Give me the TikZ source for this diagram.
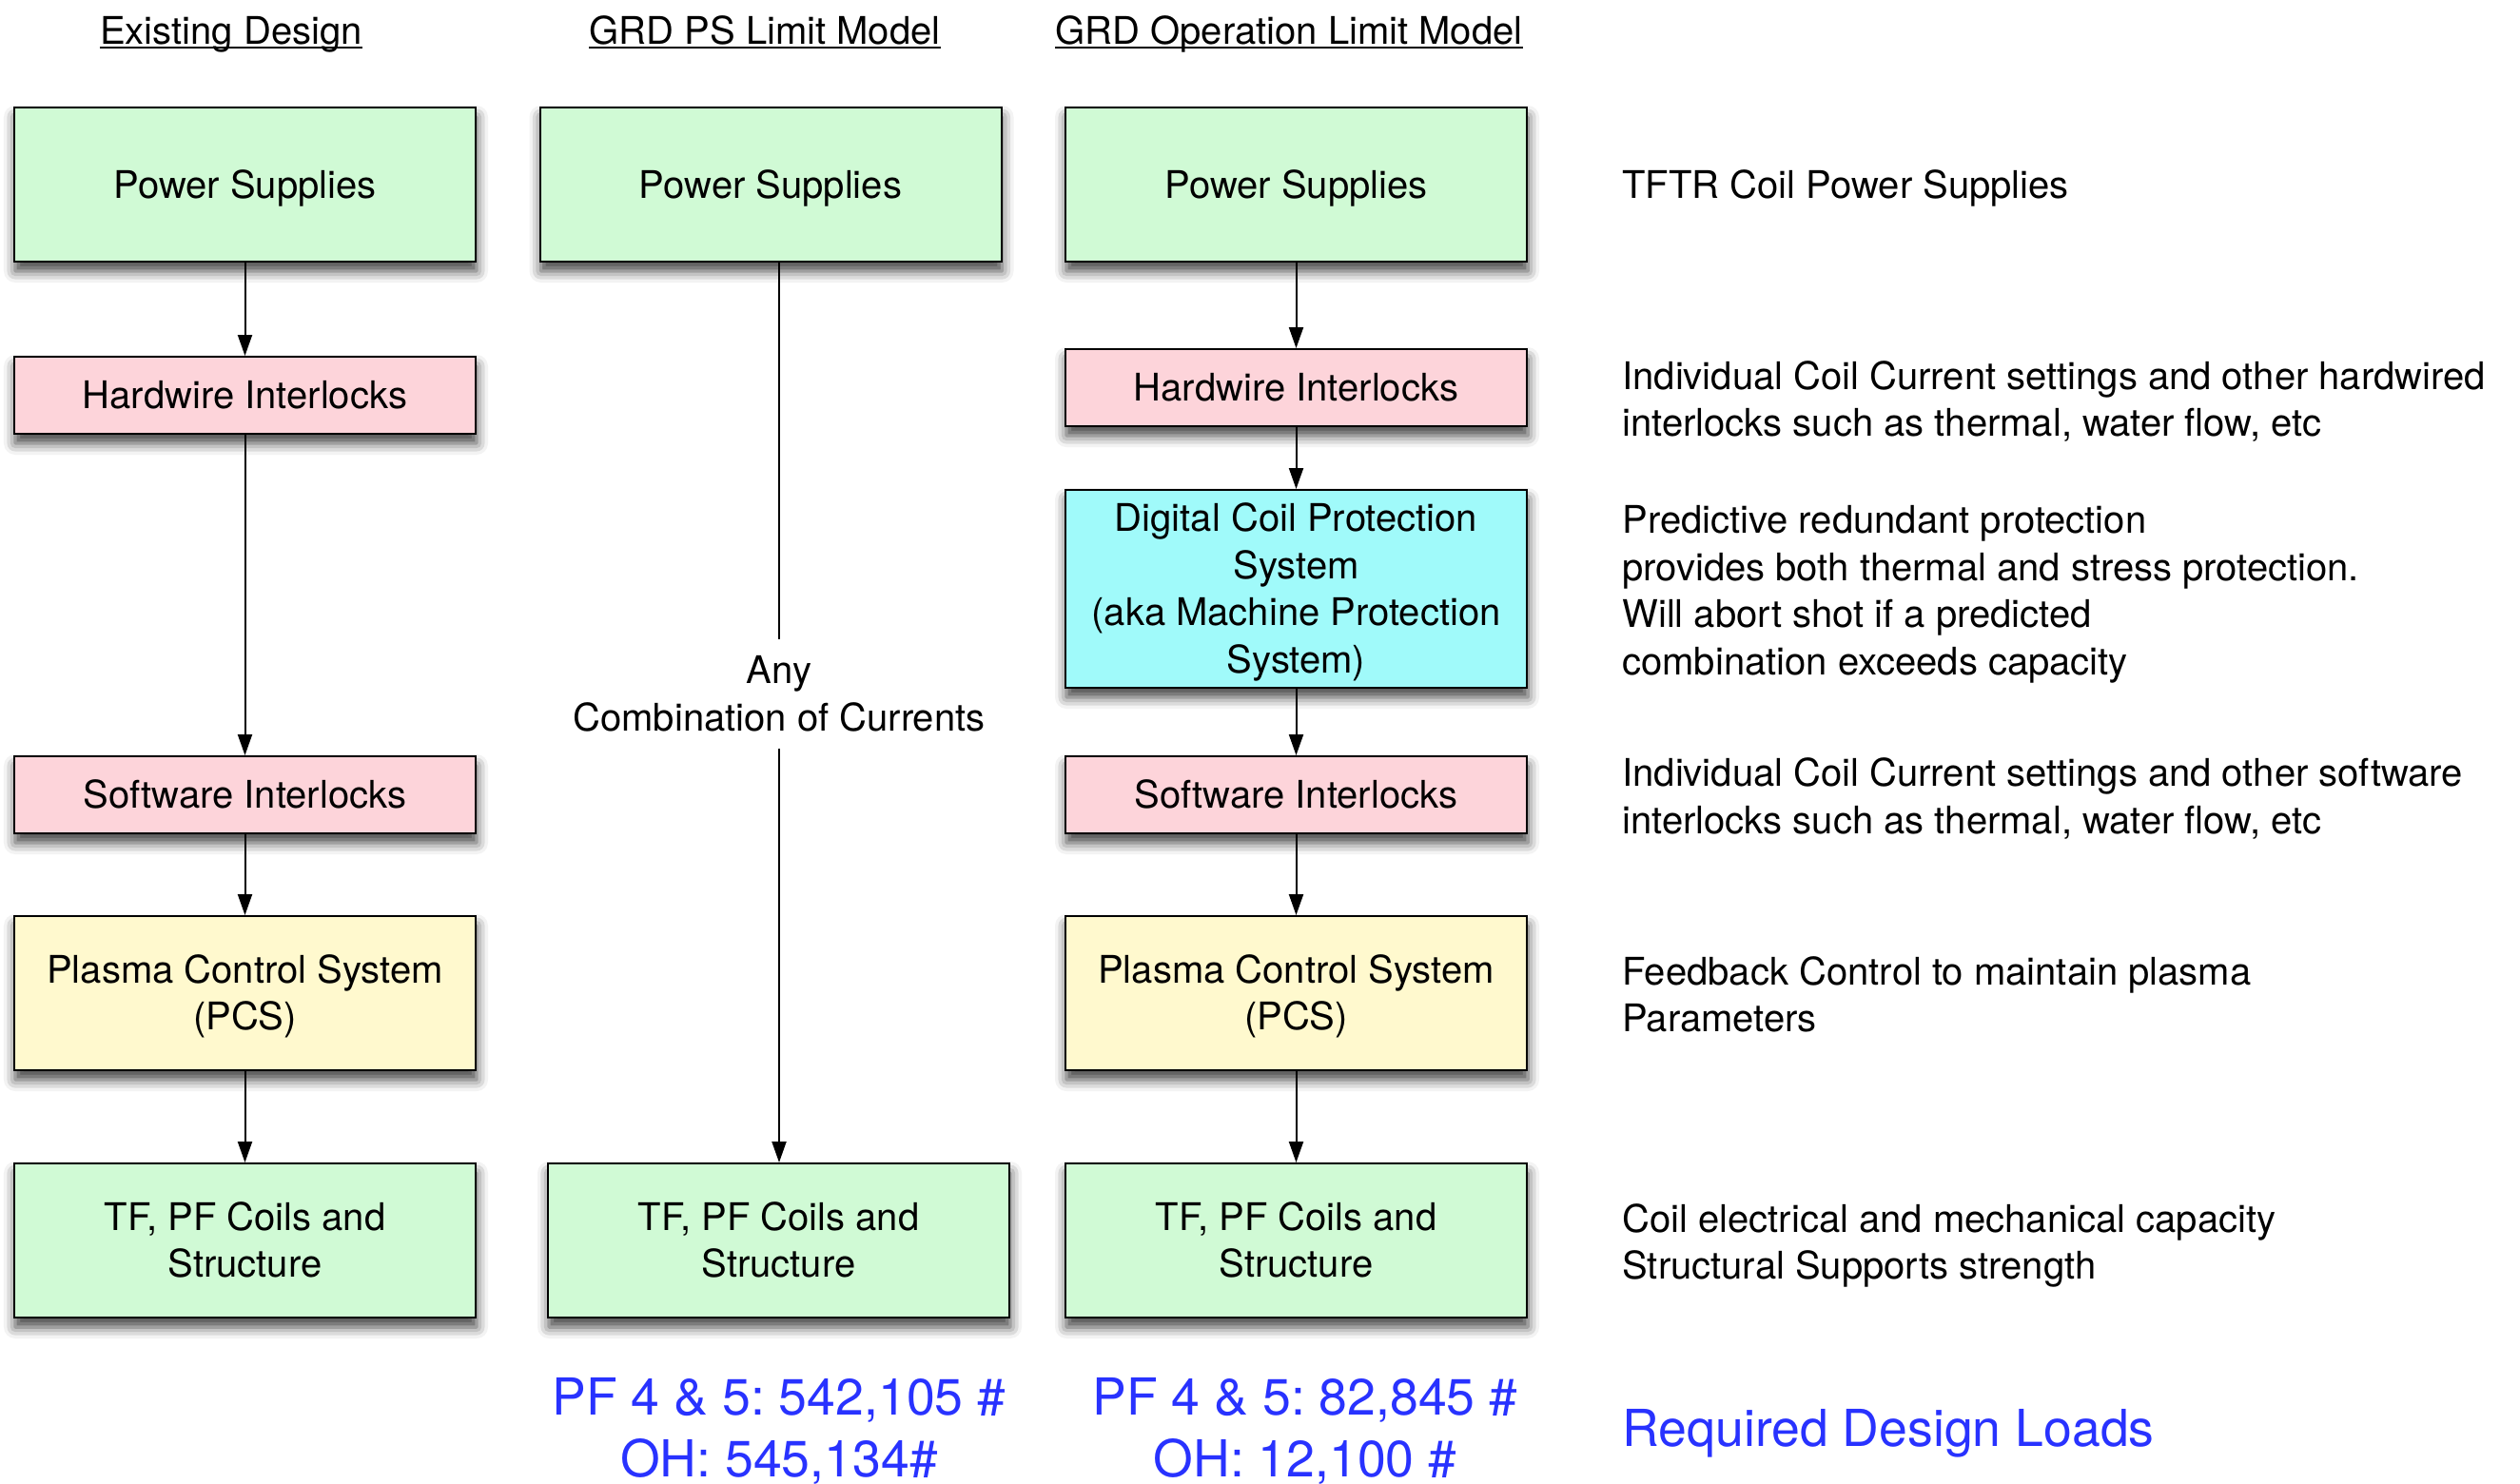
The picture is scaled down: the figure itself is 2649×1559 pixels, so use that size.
\documentclass[tikz,border=0pt]{standalone}
\usepackage{fontspec}
\setmainfont{TeX Gyre Heros}
\usetikzlibrary{arrows.meta,shadows.blur}

\definecolor{boxgreen}{RGB}{208,250,213}
\definecolor{boxpink}{RGB}{253,212,218}
\definecolor{boxcyan}{RGB}{160,250,250}
\definecolor{boxyellow}{RGB}{255,249,206}
\definecolor{loadblue}{RGB}{40,50,255}

\newcommand{\bodyfont}{\fontsize{20pt}{24.8pt}\selectfont\frenchspacing}
\newcommand{\loadfont}{\fontsize{26.8pt}{32.5pt}\selectfont\frenchspacing}
% fixed line metrics so every label centres on its capitals
\newcommand{\capstrut}{\rule{0pt}{0.95em}}
\newcommand{\basestrut}{\rule[-0.25em]{0pt}{0.25em}}

\begin{document}
\begin{tikzpicture}[x=0.5pt,y=-0.5pt,
  txt/.style={execute at begin node=\capstrut, execute at end node=\basestrut},
  block/.style={txt, draw=black, line width=1pt, minimum width=242.5pt, inner sep=0pt,
    align=center, font=\bodyfont,
    blur shadow={shadow xshift=0.5pt, shadow yshift=-5pt, shadow blur radius=6pt, shadow opacity=75}},
  tall/.style={block, minimum height=81pt},
  short/.style={block, minimum height=40.5pt},
  greenbox/.style={tall, fill=boxgreen},
  pinkbox/.style={short, fill=boxpink},
  yellowbox/.style={tall, fill=boxyellow},
  cyanbox/.style={block, fill=boxcyan, minimum height=104pt},
  heading/.style={font=\bodyfont, inner sep=0pt, anchor=base},
  underl/.style={line width=1pt},
  note/.style={txt, font=\bodyfont, align=left, anchor=west, inner sep=0pt},
  load/.style={txt, font=\loadfont, text=loadblue, align=center, inner sep=0pt},
  flow/.style={-{Triangle[length=11pt,width=7.5pt]}, line width=1pt}]

\useasboundingbox (0,0) rectangle (2649,1559);

% column headings, underlined
\node[heading] (h1) at (243,46) {Existing Design};
\node[heading] (h2) at (804,46) {GRD PS Limit Model};
\node[heading] (h3) at (1355,46) {GRD Operation Limit Model};
\foreach \h in {h1,h2,h3}
  \draw[underl] ([yshift=-2pt]\h.base west) -- ([yshift=-2pt]\h.base east);

% existing design chain
\node[greenbox]  (ps1)  at (257.5,194)  {Power Supplies};
\node[pinkbox]   (hw1)  at (257.5,415.5) {Hardwire Interlocks};
\node[pinkbox]   (sw1)  at (257.5,835.5) {Software Interlocks};
\node[yellowbox] (pcs1) at (257.5,1044) {\capstrut Plasma Control System\\(PCS)\basestrut};
\node[greenbox]  (tf1)  at (257.5,1304) {\capstrut TF, PF Coils and\\Structure\basestrut};

% power-supply limit model
\node[greenbox]  (ps2)  at (810,194)  {Power Supplies};
\node[greenbox]  (tf2)  at (818.5,1304) {\capstrut TF, PF Coils and\\Structure\basestrut};
\node[txt, font=\bodyfont, align=center, inner sep=4pt] (any) at (819,729.5) {\capstrut Any\\Combination of Currents\basestrut};

% operation limit model chain
\node[greenbox]  (ps3)  at (1362.5,194)  {Power Supplies};
\node[pinkbox]   (hw3)  at (1362.5,407.5) {Hardwire Interlocks};
\node[cyanbox]   (dcp3) at (1362.5,619)  {\capstrut Digital Coil Protection\\System\\(aka Machine Protection\\System)\basestrut};
\node[pinkbox]   (sw3)  at (1362.5,835.5) {Software Interlocks};
\node[yellowbox] (pcs3) at (1362.5,1044) {\capstrut Plasma Control System\\(PCS)\basestrut};
\node[greenbox]  (tf3)  at (1362.5,1304) {\capstrut TF, PF Coils and\\Structure\basestrut};

% connectors
\draw[flow] (ps1) -- (hw1);
\draw[flow] (hw1) -- (sw1);
\draw[flow] (sw1) -- (pcs1);
\draw[flow] (pcs1) -- (tf1);

\draw[line width=1pt] (ps2.south -| any.north) -- (any.north);
\draw[flow] (any.south) -- (tf2.north -| any.south);

\draw[flow] (ps3) -- (hw3);
\draw[flow] (hw3) -- (dcp3);
\draw[flow] (dcp3) -- (sw3);
\draw[flow] (sw3) -- (pcs3);
\draw[flow] (pcs3) -- (tf3);

% descriptions
\node[note] (n1) at (1705,194) {TFTR Coil Power Supplies};
\node[note] (n2) at (1705,420) {\capstrut Individual Coil Current settings and other hardwired\\interlocks such as thermal, water flow, etc\basestrut};
\node[note] (n3) at (1705,621) {\capstrut Predictive redundant protection\\provides both thermal and stress protection.\\Will abort shot if a predicted\\combination exceeds capacity\basestrut};
\node[note] (n4) at (1705,837.5) {\capstrut Individual Coil Current settings and other software\\interlocks such as thermal, water flow, etc\basestrut};
\node[note] (n5) at (1705,1046) {\capstrut Feedback Control to maintain plasma\\Parameters\basestrut};
\node[note] (n6) at (1705,1306) {\capstrut Coil electrical and mechanical capacity\\Structural Supports strength\basestrut};

% design loads
\node[load] (l2) at (819,1501) {\capstrut PF 4 \& 5: 542,105 \#\\OH: 545,134\#\basestrut};
\node[load] (l3) at (1372,1501) {\capstrut PF 4 \& 5: 82,845 \#\\OH: 12,100 \#\basestrut};
\node[load, anchor=west] (l4) at (1705,1502) {Required Design Loads};
\end{tikzpicture}
\end{document}
